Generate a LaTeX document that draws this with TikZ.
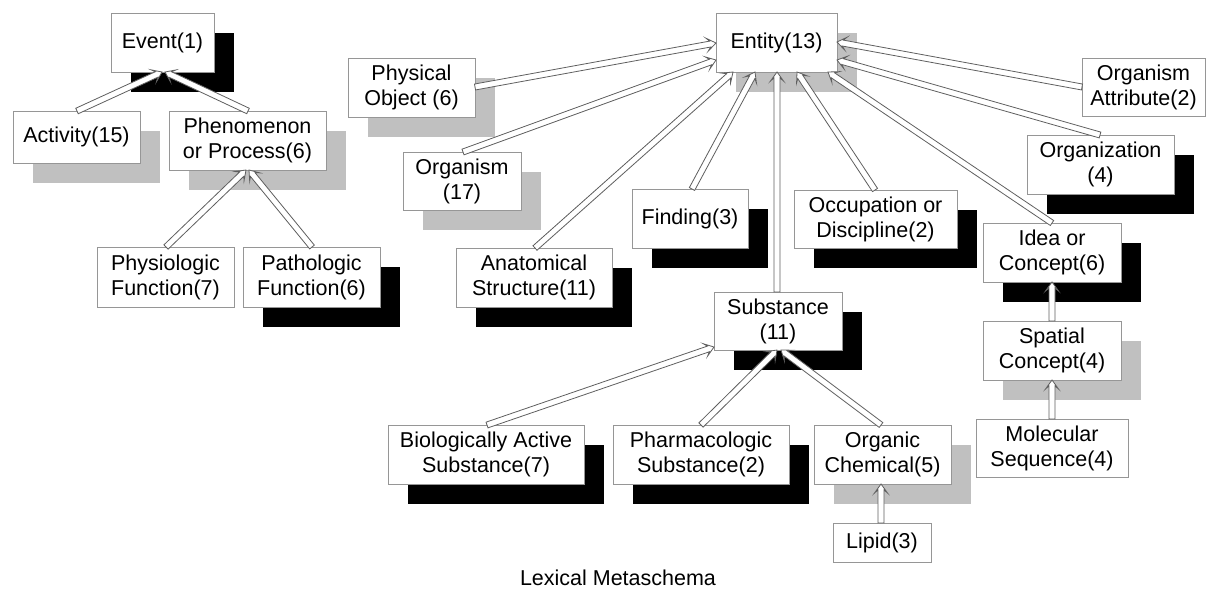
\documentclass[tikz,border=0pt]{standalone}
\usepackage{fontspec}
\setmainfont{Liberation Sans}
\usetikzlibrary{calc,shadows}

\definecolor{boxgray}{RGB}{150,150,150}
\definecolor{shadegray}{RGB}{192,192,192}
\definecolor{arrowgray}{RGB}{95,95,95}
\newcommand\boxfont{\fontsize{21.5}{25}\selectfont}

% hollow block arrow from #1 (tail) to #2 (tip)
\newcommand\hollowarrow[2]{%
  \filldraw[arrowline]
    ($(#1)!3pt!90:(#2)$) --
    ($(#2)!6pt!(#1)!3pt!-90:(#1)$) --
    ($(#2)!9pt!(#1)!6.5pt!-90:(#1)$) --
    (#2) --
    ($(#2)!9pt!(#1)!6.5pt!90:(#1)$) --
    ($(#2)!6pt!(#1)!3pt!90:(#1)$) --
    ($(#1)!3pt!-90:(#2)$) -- cycle;}

\begin{document}
\begin{tikzpicture}[x=1pt,y=-1pt,
  box/.style={draw=boxgray, line width=0.9pt, fill=white, inner sep=0pt,
    outer sep=0pt, align=center, font=\boxfont},
  % box given by its left, top, right and bottom edges
  span/.style n args={4}{minimum width={(#3-#1)*1pt},
    minimum height={(#4-#2)*1pt}, at={({(#1+#3)/2},{(#2+#4)/2})}},
  blackshade/.style={drop shadow={shadow xshift=20pt, shadow yshift=-20pt,
    fill=black, opacity=1}},
  grayshade/.style={drop shadow={shadow xshift=20pt, shadow yshift=-20pt,
    fill=shadegray, opacity=1}},
  arrowline/.style={draw=arrowgray, line width=0.8pt, fill=white, line join=miter}]

\useasboundingbox (0,0) rectangle (1206,589);

% ---- event branch ----
\node[box, blackshade, span={111}{13}{214}{72}] (event) {Event(1)};
\node[box, grayshade, span={13}{111}{140}{163}] (act) {Activity(15)};
\node[box, grayshade, span={169}{111}{326}{170}] (phen) {Phenomenon\\or Process(6)};
\node[box, span={97}{247}{234}{307}] (phys) {Physiologic\\Function(7)};
\node[box, blackshade, span={243}{247}{380}{307}] (path) {Pathologic\\Function(6)};

% ---- entity branch ----
\node[box, grayshade, span={716}{13}{837}{72}] (entity) {Entity(13)};
\node[box, grayshade, span={348}{58}{475}{117}] (physobj) {Physical\\Object (6)};
\node[box, grayshade, span={403}{152}{521}{210}] (organism) {Organism\\(17)};
\node[box, blackshade, span={456}{248}{612}{307}] (anat) {Anatomical\\Structure(11)};
\node[box, blackshade, span={632}{189}{748}{248}] (finding) {Finding(3)};
\node[box, blackshade, span={794}{190}{957}{248}] (occ) {Occupation or\\Discipline(2)};
\node[box, span={1082}{58}{1205}{116}] (orgattr) {Organism\\Attribute(2)};
\node[box, blackshade, span={1027}{135}{1174}{194}] (orgz) {Organization\\(4)};
\node[box, blackshade, span={983}{223}{1121}{282}] (idea) {Idea or\\Concept(6)};
\node[box, grayshade, span={983}{321}{1121}{380}] (spatial) {Spatial\\Concept(4)};
\node[box, span={976}{419}{1128}{477}] (molseq) {Molecular\\Sequence(4)};
\node[box, blackshade, span={714}{292}{842}{350}] (subst) {Substance\\(11)};
\node[box, blackshade, span={388}{425}{584}{484}] (bio) {Biologically Active\\Substance(7)};
\node[box, blackshade, span={613}{425}{789}{484}] (pharm) {Pharmacologic\\Substance(2)};
\node[box, grayshade, span={814}{425}{951}{484}] (organic) {Organic\\Chemical(5)};
\node[box, span={833}{523}{931}{562}] (lipid) {Lipid(3)};

\node[font=\boxfont, inner sep=0pt, anchor=base] (caption) at (618,585) {Lexical Metaschema};

% ---- arrow end points ----
\coordinate (a1s) at ($(act.north west)+(64,0)$);
\coordinate (a1t) at ($(event.south west)+(51,0)$);
\coordinate (a2s) at ($(phen.north west)+(79,0)$);
\coordinate (a2t) at ($(event.south west)+(54,0)$);
\coordinate (a3s) at ($(phys.north west)+(69,0)$);
\coordinate (a3t) at ($(phen.south west)+(77,0)$);
\coordinate (a4s) at ($(path.north west)+(69,0)$);
\coordinate (a4t) at ($(phen.south west)+(80,0)$);
\coordinate (a5s) at ($(physobj.north east)+(0,29)$);
\coordinate (a5t) at ($(entity.north west)+(0,30)$);
\coordinate (a6s) at ($(organism.north west)+(60,0)$);
\coordinate (a6t) at ($(entity.north west)+(0,47)$);
\coordinate (a7s) at ($(anat.north west)+(79,0)$);
\coordinate (a7t) at ($(entity.south west)+(17,0)$);
\coordinate (a8s) at ($(finding.north west)+(60,0)$);
\coordinate (a8t) at ($(entity.south west)+(39,0)$);
\coordinate (a9s) at ($(subst.north west)+(63,0)$);
\coordinate (a9t) at ($(entity.south west)+(61,0)$);
\coordinate (a10s) at ($(occ.north west)+(81,0)$);
\coordinate (a10t) at ($(entity.south west)+(81,0)$);
\coordinate (a11s) at ($(idea.north west)+(69,0)$);
\coordinate (a11t) at ($(entity.south west)+(112,0)$);
\coordinate (a12s) at ($(orgz.north west)+(73,0)$);
\coordinate (a12t) at ($(entity.north east)+(0,47)$);
\coordinate (a13s) at ($(orgattr.north west)+(0,29)$);
\coordinate (a13t) at ($(entity.north east)+(0,29)$);
\coordinate (a14s) at ($(bio.north west)+(99,0)$);
\coordinate (a14t) at ($(subst.south west)+(0,-3)$);
\coordinate (a15s) at ($(pharm.north west)+(88,0)$);
\coordinate (a15t) at ($(subst.south west)+(63,0)$);
\coordinate (a16s) at ($(organic.north west)+(67,0)$);
\coordinate (a16t) at ($(subst.south west)+(67,0)$);
\coordinate (a17s) at ($(spatial.north west)+(69,0)$);
\coordinate (a17t) at ($(idea.south west)+(69,0)$);
\coordinate (a18s) at ($(molseq.north west)+(76,0)$);
\coordinate (a18t) at ($(spatial.south west)+(69,0)$);
\coordinate (a19s) at ($(lipid.north west)+(48,0)$);
\coordinate (a19t) at ($(organic.south west)+(67,0)$);

% ---- is-a arrows ----
\foreach \k in {1,...,19}{\hollowarrow{a\k s}{a\k t}}

\end{tikzpicture}
\end{document}
